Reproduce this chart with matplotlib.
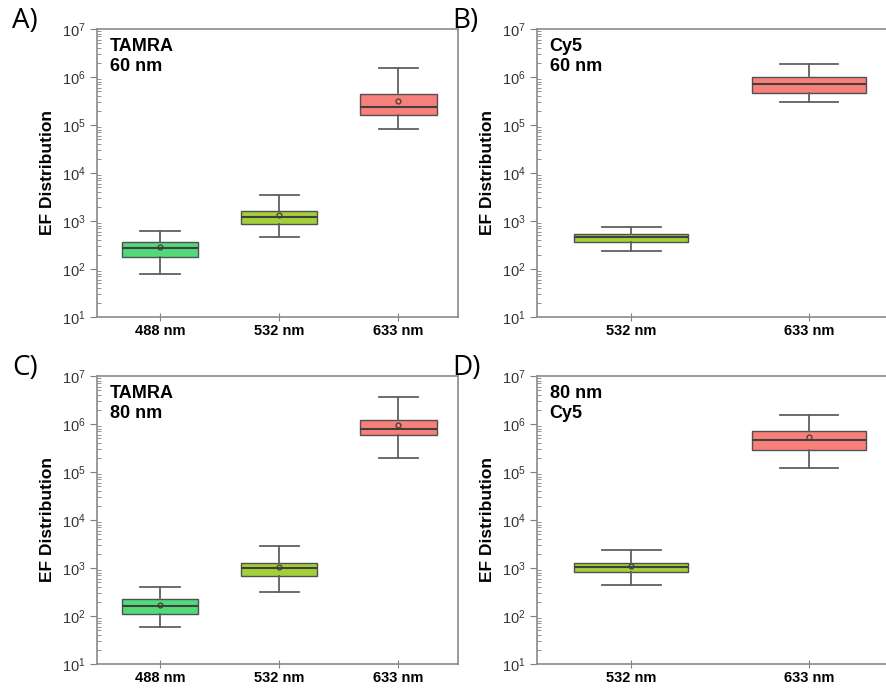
import matplotlib.pyplot as plt
import matplotlib.ticker as mticker

plt.rcParams['font.family'] = ['Liberation Sans', 'DejaVu Sans']

# box statistics (whisker low, q1, median, q3, whisker high, mean)
a_labels = ["488 nm", "532 nm", "633 nm"]
a_wlo = [79, 465, 8.1e4]
a_q1 = [180, 880, 1.64e5]
a_med = [274, 1210, 2.42e5]
a_q3 = [363, 1630, 4.44e5]
a_whi = [633, 3470, 1.54e6]
a_mean = [290, 1310, 3.2e5]

b_labels = ["532 nm", "633 nm"]
b_wlo = [236, 3.08e5]
b_q1 = [363, 4.74e5]
b_med = [456, 7.17e5]
b_q3 = [543, 1.02e6]
b_whi = [748, 1.87e6]
b_mean = [None, None]

c_labels = ["488 nm", "532 nm", "633 nm"]
c_wlo = [59, 311, 1.97e5]
c_q1 = [112, 680, 5.93e5]
c_med = [161, 982, 7.9e5]
c_q3 = [226, 1268, 1.22e6]
c_whi = [407, 2910, 3.6e6]
c_mean = [172, 1045, 9.7e5]

d_labels = ["532 nm", "633 nm"]
d_wlo = [441, 1.22e5]
d_q1 = [823, 2.93e5]
d_med = [1030, 4.67e5]
d_q3 = [1268, 7.2e5]
d_whi = [2320, 1.52e6]
d_mean = [1096, 5.4e5]

green = "#52d97c"
lime = "#a3d03a"
red = "#f8807a"

a_colors = [green, lime, red]
b_colors = [lime, red]

panels = [
    ("A)", "TAMRA\n60 nm", a_labels, a_wlo, a_q1, a_med, a_q3, a_whi, a_mean, a_colors),
    ("B)", "Cy5\n60 nm", b_labels, b_wlo, b_q1, b_med, b_q3, b_whi, b_mean, b_colors),
    ("C)", "TAMRA\n80 nm", c_labels, c_wlo, c_q1, c_med, c_q3, c_whi, c_mean, a_colors),
    ("D)", "80 nm\nCy5", d_labels, d_wlo, d_q1, d_med, d_q3, d_whi, d_mean, b_colors),
]

# log ticks on the y axis (10^1 .. 10^7)
major_ticks = [10.0 ** e for e in range(1, 8)]
minor_ticks = [s * 10.0 ** e for e in range(1, 7) for s in range(2, 10)]

fig = plt.figure(figsize=(8.86, 6.89), dpi=100)

W, H = 886, 689
ax_w, ax_h = 361, 288
origins = [(97, 29), (537, 29), (97, 376), (537, 376)]

for (letter, note, labels, wlo, q1, med, q3, whi, mean, colors), (x0, y0) in zip(panels, origins):
    ax = fig.add_axes([x0 / W, 1 - (y0 + ax_h) / H, ax_w / W, ax_h / H])
    n = len(labels)
    stats = []
    for i in range(n):
        stats.append({"whislo": wlo[i], "q1": q1[i], "med": med[i], "q3": q3[i],
                      "whishi": whi[i], "fliers": [], "label": labels[i]})
    pos = list(range(1, n + 1))
    bp = ax.bxp(stats, positions=pos, widths=0.64, patch_artist=True,
                showfliers=False, capwidths=0.33,
                boxprops=dict(edgecolor="#505050", linewidth=1.0),
                medianprops=dict(color="#404040", linewidth=1.5),
                whiskerprops=dict(color="#606060", linewidth=1.3),
                capprops=dict(color="#606060", linewidth=1.3))
    for patch, c in zip(bp["boxes"], colors):
        patch.set_facecolor(c)
    for p, m in zip(pos, mean):
        if m is not None:
            ax.plot(p, m, marker="o", ms=3.5, mfc="none", mec="#404040", mew=0.9)

    ax.set_yscale("log")
    ax.set_ylim(10, 1e7)
    ax.set_xlim(0.47, n + 0.5)
    ax.yaxis.set_major_locator(mticker.FixedLocator(major_ticks))
    ax.yaxis.set_major_formatter(mticker.LogFormatterSciNotation())
    ax.yaxis.set_minor_locator(mticker.FixedLocator(minor_ticks))
    ax.yaxis.set_minor_formatter(mticker.NullFormatter())
    ax.tick_params(axis="y", which="major", direction="out", length=5, color="#808080",
                   labelsize=10.5, labelcolor="#333333", pad=3)
    ax.tick_params(axis="y", which="minor", direction="in", length=3, color="#808080")
    ax.tick_params(axis="x", direction="inout", length=6, color="#808080", labelsize=10.5,
                   pad=2)
    for lab in ax.get_xticklabels():
        lab.set_fontweight("bold")
    for s in ax.spines.values():
        s.set_color("#8a8a8a")
        s.set_linewidth(1.2)

    ax.set_ylabel("EF Distribution", fontsize=12.5, fontweight="bold", labelpad=5)
    ax.text(0.035, 0.97, note, transform=ax.transAxes, ha="left", va="top",
            fontsize=13, fontweight="bold", linespacing=1.25)
    fig.text((x0 - 85) / W, 1 - (y0 - 8) / H, letter, fontsize=20,
             family=["Open Sans", "DejaVu Sans"], ha="left", va="center")

fig.savefig("out.png", dpi=100)
